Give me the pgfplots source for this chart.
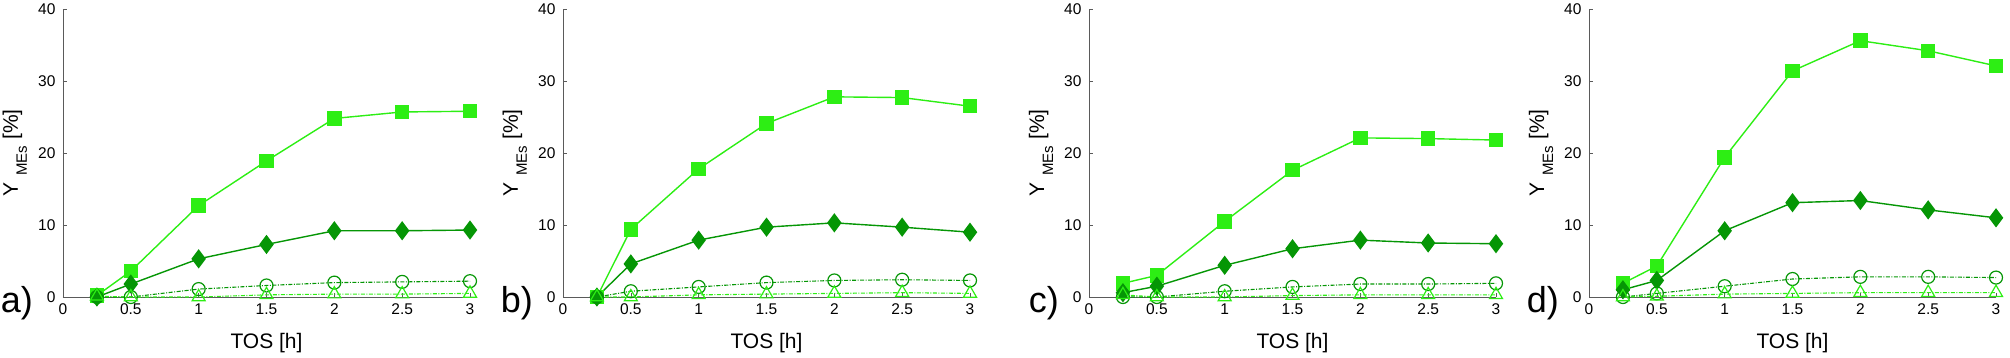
\documentclass[border=0pt]{standalone}
\usepackage{pgfplots}
\pgfplotsset{compat=1.18}
\usepackage{pgfplotstable}
\usepackage{fontspec}
\setmainfont{Liberation Sans}
\definecolor{lg}{RGB}{45,238,20}
\definecolor{dg}{RGB}{5,150,5}
\definecolor{ax}{RGB}{90,90,90}

\pgfplotstableread{
x sq di ci tr
0.25 0.2 0.0 0.0 0.1
0.5 3.6 1.8 0.0 0.0
1 12.7 5.3 1.1 0.0
1.5 18.9 7.3 1.6 0.3
2 24.8 9.2 2.0 0.4
2.5 25.7 9.2 2.1 0.4
3 25.8 9.3 2.2 0.5
}\dataA
\pgfplotstableread{
x sq di ci tr
0.25 0.0 0.0 0.0 0.0
0.5 9.4 4.6 0.8 0.0
1 17.8 7.9 1.4 0.3
1.5 24.1 9.7 2.0 0.4
2 27.8 10.3 2.3 0.5
2.5 27.7 9.7 2.4 0.6
3 26.5 9.0 2.3 0.5
}\dataB
\pgfplotstableread{
x sq di ci tr
0.25 1.9 0.6 0.0 0.3
0.5 3.0 1.5 0.0 0.0
1 10.5 4.4 0.8 0.0
1.5 17.6 6.7 1.4 0.2
2 22.1 7.9 1.8 0.3
2.5 22.0 7.5 1.8 0.3
3 21.8 7.4 1.9 0.3
}\dataC
\pgfplotstableread{
x sq di ci tr
0.25 1.9 1.0 0.0 0.0
0.5 4.3 2.3 0.5 0.1
1 19.4 9.2 1.5 0.4
1.5 31.4 13.1 2.5 0.5
2 35.6 13.4 2.8 0.6
2.5 34.2 12.1 2.8 0.6
3 32.1 11.0 2.7 0.6
}\dataD

\pgfplotsset{
  panel/.style={
    scale only axis, width=407pt, height=288pt,
    xmin=0, xmax=3, ymin=0, ymax=40,
    xtick={0,0.5,1,1.5,2,2.5,3},
    xticklabels={0,0.5,1,1.5,2,2.5,3},
    ytick={0,10,20,30,40},
    axis x line*=bottom, axis y line*=left,
    axis line style={ax, line width=0.8pt, -},
    tick style={ax, line width=0.6pt},
    tick align=inside, major tick length=4pt,
    /pgf/number format/assume math mode=true,
    tick label style={font=\fontsize{15.5}{15.5}\selectfont},
    yticklabel style={xshift=-4pt},
    xticklabel style={yshift=-3pt},
    xlabel={TOS [h]},
    xlabel style={font=\fontsize{21}{21}\selectfont, at={(axis description cs:0.5,0)}, anchor=base, yshift=-51pt},
    ylabel={Y\kern7pt\raisebox{-9pt}{\fontsize{15}{15}\selectfont MEs}\kern6pt[\%]},
    ylabel style={font=\fontsize{21}{21}\selectfont, at={(axis description cs:-0.1106,0.5)}, anchor=base, inner sep=0pt},
    clip=false,
  },
  sqs/.style={lg, line width=1.4pt, mark=square*, mark size=6.5pt, mark options={solid, fill=lg, draw=lg}},
  dis/.style={dg, line width=1.4pt, mark=diamond*, mark size=8.5pt, mark options={solid, fill=dg, draw=dg}},
  cis/.style={dg, line width=1.1pt, dash pattern=on 4pt off 1.5pt on 1pt off 1.5pt, mark=o, mark size=6.5pt, mark options={solid, draw=dg, line width=1.2pt}},
  trs/.style={lg, line width=1.1pt, dash pattern=on 4pt off 1.5pt on 1pt off 1.5pt, mark=triangle, mark size=7.5pt, mark options={solid, draw=lg, line width=1.2pt}},
}

\newcommand{\panel}[3]{%
\begin{axis}[panel, at={(#1,60pt)}, anchor=origin]
\addplot[sqs] table[x=x,y=sq] {#2};
\addplot[dis] table[x=x,y=di] {#2};
\addplot[cis] table[x=x,y=ci] {#2};
\addplot[trs] table[x=x,y=tr] {#2};
\node[anchor=base east, font=\fontsize{36}{36}\selectfont, inner sep=0pt] at (rel axis cs:0,0) [xshift=-30pt, yshift=-15pt] {#3};
\end{axis}}

\begin{document}
\begin{tikzpicture}[x=1pt,y=1pt]
\path[use as bounding box] (0,0) rectangle (2010,357);
\panel{63pt}{\dataA}{a)}
\panel{563pt}{\dataB}{b)}
\panel{1089pt}{\dataC}{c)}
\panel{1589pt}{\dataD}{d)}
\end{tikzpicture}
\end{document}
